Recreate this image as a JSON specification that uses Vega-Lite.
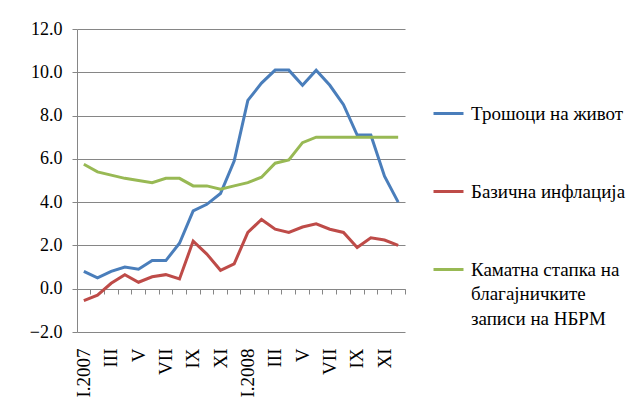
{
  "$schema": "https://vega.github.io/schema/vega-lite/v6.json",
  "autosize": {"type": "none"},
  "padding": {"left": 77, "top": 29, "right": 236, "bottom": 80},
  "width": 328,
  "height": 303,
  "background": "white",
  "config": {
    "view": {"stroke": null},
    "font": "Liberation Serif, Times New Roman, serif",
    "axis": {"labelFont": "Liberation Serif, Times New Roman, serif", "labelColor": "black", "labelFontSize": 17},
    "legend": {"labelFont": "Liberation Serif, Times New Roman, serif"}
  },
  "data": {
    "values": [
      {"month": "2007-01", "series": "Трошоци на живот", "value": 0.8},
      {"month": "2007-02", "series": "Трошоци на живот", "value": 0.5},
      {"month": "2007-03", "series": "Трошоци на живот", "value": 0.8},
      {"month": "2007-04", "series": "Трошоци на живот", "value": 1.0},
      {"month": "2007-05", "series": "Трошоци на живот", "value": 0.9},
      {"month": "2007-06", "series": "Трошоци на живот", "value": 1.3},
      {"month": "2007-07", "series": "Трошоци на живот", "value": 1.3},
      {"month": "2007-08", "series": "Трошоци на живот", "value": 2.1},
      {"month": "2007-09", "series": "Трошоци на живот", "value": 3.6},
      {"month": "2007-10", "series": "Трошоци на живот", "value": 3.9},
      {"month": "2007-11", "series": "Трошоци на живот", "value": 4.4},
      {"month": "2007-12", "series": "Трошоци на живот", "value": 5.9},
      {"month": "2008-01", "series": "Трошоци на живот", "value": 8.7},
      {"month": "2008-02", "series": "Трошоци на живот", "value": 9.5},
      {"month": "2008-03", "series": "Трошоци на живот", "value": 10.1},
      {"month": "2008-04", "series": "Трошоци на живот", "value": 10.1},
      {"month": "2008-05", "series": "Трошоци на живот", "value": 9.4},
      {"month": "2008-06", "series": "Трошоци на живот", "value": 10.1},
      {"month": "2008-07", "series": "Трошоци на живот", "value": 9.4},
      {"month": "2008-08", "series": "Трошоци на живот", "value": 8.5},
      {"month": "2008-09", "series": "Трошоци на живот", "value": 7.1},
      {"month": "2008-10", "series": "Трошоци на живот", "value": 7.1},
      {"month": "2008-11", "series": "Трошоци на живот", "value": 5.2},
      {"month": "2008-12", "series": "Трошоци на живот", "value": 4.0},
      {"month": "2007-01", "series": "Базична инфлација", "value": -0.55},
      {"month": "2007-02", "series": "Базична инфлација", "value": -0.3},
      {"month": "2007-03", "series": "Базична инфлација", "value": 0.25},
      {"month": "2007-04", "series": "Базична инфлација", "value": 0.65},
      {"month": "2007-05", "series": "Базична инфлација", "value": 0.3},
      {"month": "2007-06", "series": "Базична инфлација", "value": 0.55},
      {"month": "2007-07", "series": "Базична инфлација", "value": 0.65},
      {"month": "2007-08", "series": "Базична инфлација", "value": 0.45},
      {"month": "2007-09", "series": "Базична инфлација", "value": 2.2},
      {"month": "2007-10", "series": "Базична инфлација", "value": 1.6},
      {"month": "2007-11", "series": "Базична инфлација", "value": 0.85},
      {"month": "2007-12", "series": "Базична инфлација", "value": 1.15},
      {"month": "2008-01", "series": "Базична инфлација", "value": 2.6},
      {"month": "2008-02", "series": "Базична инфлација", "value": 3.2},
      {"month": "2008-03", "series": "Базична инфлација", "value": 2.75},
      {"month": "2008-04", "series": "Базична инфлација", "value": 2.6},
      {"month": "2008-05", "series": "Базична инфлација", "value": 2.85},
      {"month": "2008-06", "series": "Базична инфлација", "value": 3.0},
      {"month": "2008-07", "series": "Базична инфлација", "value": 2.75},
      {"month": "2008-08", "series": "Базична инфлација", "value": 2.6},
      {"month": "2008-09", "series": "Базична инфлација", "value": 1.9},
      {"month": "2008-10", "series": "Базична инфлација", "value": 2.35},
      {"month": "2008-11", "series": "Базична инфлација", "value": 2.25},
      {"month": "2008-12", "series": "Базична инфлација", "value": 2.0},
      {"month": "2007-01", "series": "Каматна стапка на благајничките записи на НБРМ", "value": 5.75},
      {"month": "2007-02", "series": "Каматна стапка на благајничките записи на НБРМ", "value": 5.4},
      {"month": "2007-03", "series": "Каматна стапка на благајничките записи на НБРМ", "value": 5.25},
      {"month": "2007-04", "series": "Каматна стапка на благајничките записи на НБРМ", "value": 5.1},
      {"month": "2007-05", "series": "Каматна стапка на благајничките записи на НБРМ", "value": 5.0},
      {"month": "2007-06", "series": "Каматна стапка на благајничките записи на НБРМ", "value": 4.9},
      {"month": "2007-07", "series": "Каматна стапка на благајничките записи на НБРМ", "value": 5.1},
      {"month": "2007-08", "series": "Каматна стапка на благајничките записи на НБРМ", "value": 5.1},
      {"month": "2007-09", "series": "Каматна стапка на благајничките записи на НБРМ", "value": 4.75},
      {"month": "2007-10", "series": "Каматна стапка на благајничките записи на НБРМ", "value": 4.75},
      {"month": "2007-11", "series": "Каматна стапка на благајничките записи на НБРМ", "value": 4.6},
      {"month": "2007-12", "series": "Каматна стапка на благајничките записи на НБРМ", "value": 4.75},
      {"month": "2008-01", "series": "Каматна стапка на благајничките записи на НБРМ", "value": 4.9},
      {"month": "2008-02", "series": "Каматна стапка на благајничките записи на НБРМ", "value": 5.15},
      {"month": "2008-03", "series": "Каматна стапка на благајничките записи на НБРМ", "value": 5.8},
      {"month": "2008-04", "series": "Каматна стапка на благајничките записи на НБРМ", "value": 5.95},
      {"month": "2008-05", "series": "Каматна стапка на благајничките записи на НБРМ", "value": 6.75},
      {"month": "2008-06", "series": "Каматна стапка на благајничките записи на НБРМ", "value": 7.0},
      {"month": "2008-07", "series": "Каматна стапка на благајничките записи на НБРМ", "value": 7.0},
      {"month": "2008-08", "series": "Каматна стапка на благајничките записи на НБРМ", "value": 7.0},
      {"month": "2008-09", "series": "Каматна стапка на благајничките записи на НБРМ", "value": 7.0},
      {"month": "2008-10", "series": "Каматна стапка на благајничките записи на НБРМ", "value": 7.0},
      {"month": "2008-11", "series": "Каматна стапка на благајничките записи на НБРМ", "value": 7.0},
      {"month": "2008-12", "series": "Каматна стапка на благајничките записи на НБРМ", "value": 7.0}
    ]
  },
  "layer": [
    {
      "mark": {"type": "tick", "opacity": 0},
      "encoding": {
        "x": {
          "field": "month", "type": "ordinal", "sort": "ascending",
          "scale": {"type": "band", "paddingInner": 0, "paddingOuter": 0},
          "axis": {
            "orient": "bottom", "offset": -43, "title": null, "labels": false,
            "domain": true, "domainColor": "#868686", "domainWidth": 1,
            "ticks": true, "tickColor": "#868686", "tickSize": 5, "bandPosition": 1,
            "grid": false
          }
        },
        "y": {"datum": 0, "type": "quantitative"}
      }
    },
    {
      "mark": {"type": "line", "strokeWidth": 3, "interpolate": "linear"},
      "encoding": {
        "x": {
          "field": "month", "type": "ordinal", "sort": "ascending", "bandPosition": 0.5,
          "axis": {
            "orient": "bottom", "title": null, "domain": false, "ticks": false, "grid": false,
            "labelAngle": 270, "labelAlign": "right", "labelBaseline": "middle", "labelPadding": 16,
            "labelFont": "Liberation Serif, Times New Roman, serif", "labelFontSize": 19, "labelColor": "black",
            "labelExpr": "toNumber(slice(datum.value,5)) % 2 == 1 ? (slice(datum.value,5) == '01' ? 'I.' + slice(datum.value,0,4) : ['I','II','III','IV','V','VI','VII','VIII','IX','X','XI','XII'][toNumber(slice(datum.value,5)) - 1]) : ''"
          }
        },
        "y": {
          "field": "value", "type": "quantitative",
          "scale": {"domain": [-2, 12], "nice": false, "zero": false},
          "axis": {
            "title": null, "values": [-2, 0, 2, 4, 6, 8, 10, 12], "format": ".1f",
            "grid": true, "gridColor": "#868686", "gridWidth": 1,
            "domain": true, "domainColor": "#868686",
            "ticks": true, "tickColor": "#868686", "tickSize": 5,
            "labelPadding": 10, "labelFont": "Liberation Serif, Times New Roman, serif", "labelFontSize": 18, "labelColor": "black"
          }
        },
        "color": {
          "field": "series", "type": "nominal",
          "sort": ["Трошоци на живот", "Базична инфлација", "Каматна стапка на благајничките записи на НБРМ"],
          "scale": {
            "domain": ["Трошоци на живот", "Базична инфлација", "Каматна стапка на благајничките записи на НБРМ"],
            "range": ["#4A7EBB", "#BE4B48", "#98B954"]
          },
          "legend": {
            "title": null, "orient": "none", "legendX": 355, "legendY": 68,
            "padding": 0, "symbolType": "stroke", "symbolStrokeWidth": 3, "symbolSize": 900,
            "labelFont": "Liberation Serif, Times New Roman, serif", "labelFontSize": 19, "labelColor": "black",
            "labelOffset": 6, "rowPadding": 51, "labelLimit": 300,
            "labelExpr": "datum.label == 'Каматна стапка на благајничките записи на НБРМ' ? ['Каматна стапка на', 'благајничките', 'записи на НБРМ'] : datum.label",
            "encode": {"labels": {"update": {"lineHeight": {"value": 24.5}}}}
          }
        }
      }
    }
  ],
  "resolve": {"axis": {"x": "independent"}}
}
